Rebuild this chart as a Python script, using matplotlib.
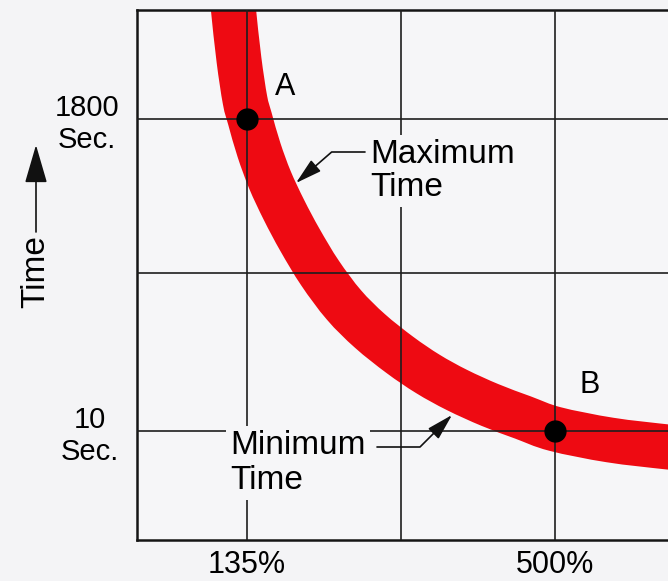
import numpy as np
import matplotlib
matplotlib.use("Agg")
import matplotlib.pyplot as plt
from matplotlib.path import Path
from matplotlib.patches import PathPatch, FancyArrowPatch

# chart units: the plot box is 531 wide and 530 tall
x_ticks = [110, 264, 418]
x_tick_labels = ["135%", "", "500%"]
y_ticks = [109, 267, 421]
y_tick_labels = ["10\nSec.", "", "1800\nSec."]

# centre line of the red time band
band_x = [96, 96.5, 102, 108, 113, 122, 133, 147, 163, 183, 207, 233, 263, 291, 320, 353, 386, 418, 473, 531, 553]
band_y = [540, 530, 480, 440, 421, 390, 360, 330, 300, 267, 235, 209, 185, 166, 150, 135, 122.5, 111, 100, 93, 91]

point_x = [110, 418]
point_y = [421, 109]
point_labels = ["A", "B"]


def smooth_path(xs, ys):
    # Catmull-Rom through the read points, drawn as cubic Bezier pieces
    p = np.column_stack([xs, ys]).astype(float)
    p = np.vstack([p[0], p, p[-1]])
    verts, codes = [p[1]], [Path.MOVETO]
    for i in range(1, len(p) - 2):
        c1 = p[i] + (p[i + 1] - p[i - 1]) / 6
        c2 = p[i + 1] - (p[i + 2] - p[i]) / 6
        verts += [c1, c2, p[i + 1]]
        codes += [Path.CURVE4] * 3
    return Path(verts, codes)


plt.rcParams["font.family"] = ["Liberation Sans", "DejaVu Sans"]

bg = "#f6f6f8"
fig = plt.figure(figsize=(6.68, 5.81), dpi=100, facecolor="#f4f4f6")
ax = fig.add_axes([137 / 668, 41 / 581, 531 / 668, 530 / 581], facecolor=bg)
ax.set_xlim(0, 531)
ax.set_ylim(0, 530)

# red band
ax.add_patch(PathPatch(smooth_path(band_x, band_y), facecolor="none",
                       edgecolor="#ee0a12", lw=32.4, capstyle="butt", zorder=1))

# grid lines
ax.set_xticks(x_ticks, x_tick_labels)
ax.set_yticks(y_ticks, y_tick_labels)
ax.set_axisbelow(False)
ax.grid(True, color="#1e1e1e", lw=1.2)
ax.tick_params(axis="y", length=0, labelsize=21, pad=13)
ax.tick_params(axis="x", length=0, labelsize=22, pad=7)
for lbl in ax.get_yticklabels():
    lbl.set_multialignment("center")

for side in ["left", "top", "bottom"]:
    ax.spines[side].set_linewidth(1.8)
    ax.spines[side].set_color("#151515")
ax.spines["right"].set_visible(False)

# points A and B
ax.plot(point_x, point_y, "o", ms=15, color="black", zorder=4)
ax.text(148, 453, point_labels[0], fontsize=22, ha="center", va="center")
ax.text(453, 155, point_labels[1], fontsize=22, ha="center", va="center")

# labels with leaders
box = dict(facecolor=bg, edgecolor="none", pad=3)
ax.text(233, 401, "Maximum\nTime", fontsize=24, ha="left", va="top",
        linespacing=1.1, bbox=box, zorder=5)
ax.text(93, 110, "Minimum\nTime", fontsize=24, ha="left", va="top",
        linespacing=1.15, bbox=box, zorder=5)

arrow = dict(arrowstyle="-|>,head_length=0.9,head_width=0.25", color="#111111",
             lw=1.2, shrinkA=0, shrinkB=0, mutation_scale=18)
ax.annotate("", xy=(159, 357), xytext=(228, 388),
            arrowprops=dict(arrow, connectionstyle="angle,angleA=0,angleB=41,rad=0"),
            zorder=6)
ax.annotate("", xy=(315, 125), xytext=(240, 93),
            arrowprops=dict(arrow, connectionstyle="angle,angleA=0,angleB=45,rad=0"),
            zorder=6)

# y axis title with upward arrow
fig.text(36 / 668, 1 - 272 / 581, "Time", rotation=90, fontsize=24,
         ha="center", va="center")
fig.patches.append(FancyArrowPatch(
    (36 / 668, 1 - 232 / 581), (36 / 668, 1 - 145 / 581),
    transform=fig.transFigure, arrowstyle="-|>,head_length=1.2,head_width=0.35",
    mutation_scale=20, color="#111111", lw=1.2, shrinkA=0, shrinkB=0))

fig.savefig("out.png", dpi=100, facecolor=fig.get_facecolor())
